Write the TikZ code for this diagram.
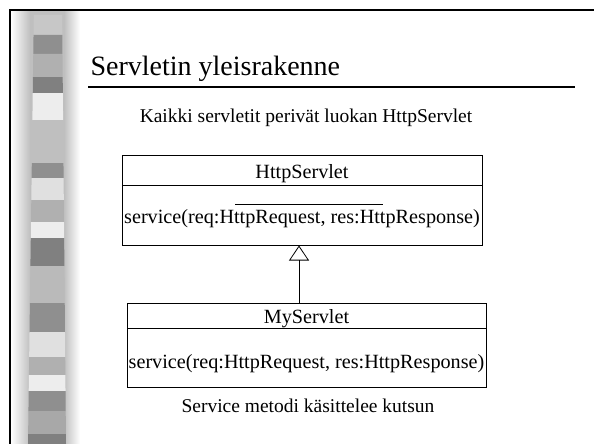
\documentclass[tikz,border=0pt]{standalone}
\usepackage{fontspec}
\setmainfont{Liberation Serif}
\usetikzlibrary{arrows.meta}

\begin{document}
\begin{tikzpicture}[x=1pt,y=-1pt,line width=1pt,
              classbox/.style={draw,inner sep=1pt,text depth=0pt,font=\fontsize{20.2}{23}\selectfont},
              caption/.style={anchor=base,inner sep=0pt,font=\fontsize{19.5}{22}\selectfont},
              isa/.style={-{Triangle[open,width=20pt,length=15pt]},line width=0.8pt}]

            \useasboundingbox (0,0) rectangle (594,444);

            % side strip
            \shade[left color=white,right color=black!25] (11,11) rectangle (30,444);
            \fill[black!25] (30,11) rectangle (64,444);
            \shade[left color=black!25,right color=white] (64,11) rectangle (80,444);
            \foreach \ya/\yb/\g in {15/35/22,35/54/44,54/77/31,77/93/50,93/120/7,
                120/163/25,163/178/44,178/200/12,200/222/31,222/238/7,238/266/50,
                266/303/27,303/332/44,332/357/12,357/375/31,375/391/7,391/411/44,
                411/434/34,434/444/50}{
              \pgfmathsetmacro{\la}{34-6*\ya/444}
              \pgfmathsetmacro{\lb}{34-6*\yb/444}
              \pgfmathsetmacro{\ra}{62+4*\ya/444}
              \pgfmathsetmacro{\rb}{62+4*\yb/444}
              \fill[black!\g] (\la,\ya) -- (\ra,\ya) -- (\rb,\yb) -- (\lb,\yb) -- cycle;
            }

            % frame
            \draw[line width=2pt] (10,444) -- (10,10) -- (594,10);

            % title
            \node[anchor=base west,inner sep=0pt,font=\fontsize{28}{32}\selectfont] (title) at (90,75) {Servletin yleisrakenne};
            \draw[line width=1.5pt] (88,87) -- (575,87);

            \node[caption] (intro) at (306,122) {Kaikki servletit perivät luokan HttpServlet};

            % classes
            \node[classbox,minimum width=360pt,minimum height=30pt,text height=17pt] (hshead) at (302,170) {HttpServlet};
            \node[classbox,minimum width=360pt,minimum height=60pt,text height=17pt] (hsbody) at (302,215) {service(req:HttpRequest, res:HttpResponse)};
            \draw[line width=0.8pt] (235,204) -- (383,204);

            \node[classbox,minimum width=359pt,minimum height=25pt,text height=15.6pt] (myhead) at (306.5,315.5) {MyServlet};
            \node[classbox,minimum width=359pt,minimum height=59pt,text height=21pt] (mybody) at (306.5,357.5) {service(req:HttpRequest, res:HttpResponse)};

            \coordinate (isax) at (299,0);
            \draw[isa] (myhead.north -| isax) -- (hsbody.south -| isax);

            \node[caption] (outro) at (308,412) {Service metodi käsittelee kutsun};
          \end{tikzpicture}
\end{document}
